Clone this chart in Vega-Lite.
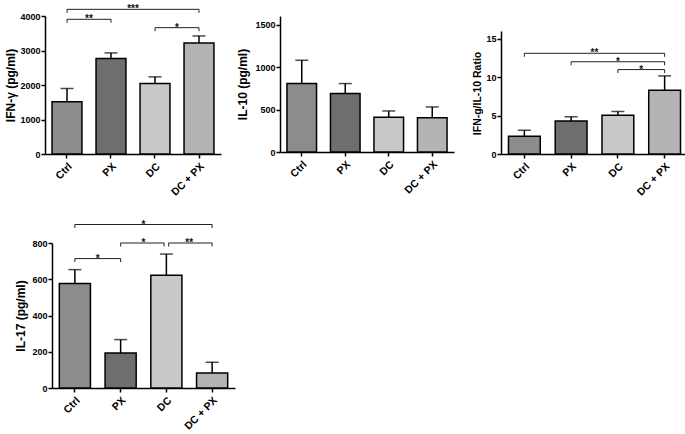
{
  "$schema": "https://vega.github.io/schema/vega-lite/v6.json",
  "background": "white",
  "padding": {"left": 4, "top": 4, "right": 0, "bottom": 0},
  "datasets": {
    "bars": [
      {"panel": "ifn", "group": "Ctrl", "mean": 1513, "upper": 1899},
      {"panel": "ifn", "group": "PX", "mean": 2766, "upper": 2930},
      {"panel": "ifn", "group": "DC", "mean": 2043, "upper": 2236},
      {"panel": "ifn", "group": "DC + PX", "mean": 3219, "upper": 3422},
      {"panel": "il10", "group": "Ctrl", "mean": 805, "upper": 1079},
      {"panel": "il10", "group": "PX", "mean": 688, "upper": 805},
      {"panel": "il10", "group": "DC", "mean": 410, "upper": 483},
      {"panel": "il10", "group": "DC + PX", "mean": 402, "upper": 530},
      {"panel": "ratio", "group": "Ctrl", "mean": 2.32, "upper": 3.09},
      {"panel": "ratio", "group": "PX", "mean": 4.3, "upper": 4.84},
      {"panel": "ratio", "group": "DC", "mean": 5.04, "upper": 5.53},
      {"panel": "ratio", "group": "DC + PX", "mean": 8.29, "upper": 10.16},
      {"panel": "il17", "group": "Ctrl", "mean": 576, "upper": 653},
      {"panel": "il17", "group": "PX", "mean": 193, "upper": 267},
      {"panel": "il17", "group": "DC", "mean": 622, "upper": 739},
      {"panel": "il17", "group": "DC + PX", "mean": 83, "upper": 142}
    ],
    "brackets": [
      {"panel": "ifn", "from": 0.5, "to": 1.5, "mid": 1.0, "y": 3904, "label": "**"},
      {"panel": "ifn", "from": 0.5, "to": 3.5, "mid": 2.0, "y": 4193, "label": "***"},
      {"panel": "ifn", "from": 2.5, "to": 3.5, "mid": 3.0, "y": 3662, "label": "*"},
      {"panel": "ratio", "from": 0.5, "to": 3.5, "mid": 2.0, "y": 13.1, "label": "**"},
      {"panel": "ratio", "from": 1.5, "to": 3.5, "mid": 2.5, "y": 12.0, "label": "*"},
      {"panel": "ratio", "from": 2.5, "to": 3.5, "mid": 3.0, "y": 10.98, "label": "*"},
      {"panel": "il17", "from": 0.5, "to": 1.5, "mid": 1.0, "y": 714, "label": "*"},
      {"panel": "il17", "from": 1.5, "to": 2.45, "mid": 2.0, "y": 800, "label": "*"},
      {"panel": "il17", "from": 2.55, "to": 3.5, "mid": 3.0, "y": 800, "label": "**"},
      {"panel": "il17", "from": 0.5, "to": 3.5, "mid": 2.0, "y": 902, "label": "*"}
    ]
  },
  "columns": 3,
  "spacing": {"row": 89, "column": 45},
  "bounds": "flush",
  "align": "each",
  "concat": [
    {
      "width": 190, "height": 138,
      "layer": [
        {
          "data": {"name": "bars"},
          "transform": [{"filter": "datum.panel == 'ifn'"}],
          "encoding": {"x": {"field": "group", "type": "nominal", "sort": ["Ctrl", "PX", "DC", "DC + PX"], "title": null, "scale": {"range": [0, 176], "paddingInner": 0.32, "paddingOuter": 0.16}}},
          "layer": [
            {"mark": {"type": "rule", "stroke": "black", "strokeWidth": 1.5}, "encoding": {"y": {"field": "mean", "type": "quantitative", "title": "IFN-γ (pg/ml)", "scale": {"domain": [0, 4000]}, "axis": {"values": [0, 1000, 2000, 3000, 4000], "format": "d", "titlePadding": 2}}, "y2": {"field": "upper"}}},
            {"mark": {"type": "bar", "stroke": "black", "strokeWidth": 1.5}, "encoding": {"y": {"field": "mean", "type": "quantitative", "title": "IFN-γ (pg/ml)", "axis": {"values": [0, 1000, 2000, 3000, 4000], "format": "d", "titlePadding": 2}}, "fill": {"field": "group", "type": "nominal", "scale": {"domain": ["Ctrl", "PX", "DC", "DC + PX"], "range": ["#8c8c8c", "#6e6e6e", "#c9c9c9", "#b4b4b4"]}, "legend": null}}},
            {"mark": {"type": "tick", "color": "black", "thickness": 1.5, "size": 13}, "encoding": {"y": {"field": "upper", "type": "quantitative", "title": "IFN-γ (pg/ml)", "axis": {"values": [0, 1000, 2000, 3000, 4000], "format": "d", "titlePadding": 2}}}}
          ]
        },
        {
          "data": {"name": "brackets"},
          "transform": [{"filter": "datum.panel == 'ifn'"}],
          "layer": [
            {"mark": {"type": "rule", "stroke": "#222222", "strokeWidth": 1}, "encoding": {"x": {"field": "from", "type": "quantitative", "scale": {"domain": [0, 4], "range": [0, 176], "nice": false, "zero": false}, "axis": null}, "x2": {"field": "to"}, "y": {"field": "y", "type": "quantitative", "title": "IFN-γ (pg/ml)", "axis": {"values": [0, 1000, 2000, 3000, 4000], "format": "d", "titlePadding": 2}}}},
            {"mark": {"type": "rule", "stroke": "#222222", "strokeWidth": 1, "y2Offset": 3.5}, "encoding": {"x": {"field": "from", "type": "quantitative"}, "y": {"field": "y", "type": "quantitative", "title": "IFN-γ (pg/ml)", "axis": {"values": [0, 1000, 2000, 3000, 4000], "format": "d", "titlePadding": 2}}, "y2": {"field": "y"}}},
            {"mark": {"type": "rule", "stroke": "#222222", "strokeWidth": 1, "y2Offset": 3.5}, "encoding": {"x": {"field": "to", "type": "quantitative"}, "y": {"field": "y", "type": "quantitative", "title": "IFN-γ (pg/ml)", "axis": {"values": [0, 1000, 2000, 3000, 4000], "format": "d", "titlePadding": 2}}, "y2": {"field": "y"}}},
            {"mark": {"type": "text", "baseline": "alphabetic", "dy": 3, "fontSize": 10, "fontWeight": "bold", "font": "Liberation Sans", "fill": "#111111"}, "encoding": {"x": {"field": "mid", "type": "quantitative"}, "y": {"field": "y", "type": "quantitative", "title": "IFN-γ (pg/ml)", "axis": {"values": [0, 1000, 2000, 3000, 4000], "format": "d", "titlePadding": 2}}, "text": {"field": "label"}}}
          ]
        }
      ],
      "resolve": {"scale": {"x": "independent"}}
    },
    {
      "width": 176, "height": 136,
      "layer": [
        {
          "data": {"name": "bars"},
          "transform": [{"filter": "datum.panel == 'il10'"}],
          "encoding": {"x": {"field": "group", "type": "nominal", "sort": ["Ctrl", "PX", "DC", "DC + PX"], "title": null, "scale": {"range": [0, 174], "paddingInner": 0.32, "paddingOuter": 0.16}}},
          "layer": [
            {"mark": {"type": "rule", "stroke": "black", "strokeWidth": 1.5}, "encoding": {"y": {"field": "mean", "type": "quantitative", "title": "IL-10 (pg/ml)", "scale": {"domain": [0, 1500]}, "axis": {"values": [0, 500, 1000, 1500], "format": "d", "titlePadding": 5}}, "y2": {"field": "upper"}}},
            {"mark": {"type": "bar", "stroke": "black", "strokeWidth": 1.5}, "encoding": {"y": {"field": "mean", "type": "quantitative", "title": "IL-10 (pg/ml)", "axis": {"values": [0, 500, 1000, 1500], "format": "d", "titlePadding": 5}}, "fill": {"field": "group", "type": "nominal", "scale": {"domain": ["Ctrl", "PX", "DC", "DC + PX"], "range": ["#8c8c8c", "#6e6e6e", "#c9c9c9", "#b4b4b4"]}, "legend": null}}},
            {"mark": {"type": "tick", "color": "black", "thickness": 1.5, "size": 13}, "encoding": {"y": {"field": "upper", "type": "quantitative", "title": "IL-10 (pg/ml)", "axis": {"values": [0, 500, 1000, 1500], "format": "d", "titlePadding": 5}}}}
          ]
        }
      ]
    },
    {
      "width": 187, "height": 138,
      "layer": [
        {
          "data": {"name": "bars"},
          "transform": [{"filter": "datum.panel == 'ratio'"}],
          "encoding": {"x": {"field": "group", "type": "nominal", "sort": ["Ctrl", "PX", "DC", "DC + PX"], "title": null, "scale": {"range": [0, 187], "paddingInner": 0.32, "paddingOuter": 0.16}}},
          "layer": [
            {"mark": {"type": "rule", "stroke": "black", "strokeWidth": 1.5}, "encoding": {"y": {"field": "mean", "type": "quantitative", "title": "IFN-g/IL-10 Ratio", "scale": {"domain": [0, 15], "range": [138, 15]}, "axis": {"values": [0, 5, 10, 15], "format": "d", "titlePadding": 3, "titleY": 77, "titleFontSize": 10.5}}, "y2": {"field": "upper"}}},
            {"mark": {"type": "bar", "stroke": "black", "strokeWidth": 1.5}, "encoding": {"y": {"field": "mean", "type": "quantitative", "title": "IFN-g/IL-10 Ratio", "axis": {"values": [0, 5, 10, 15], "format": "d", "titlePadding": 3, "titleY": 77, "titleFontSize": 10.5}}, "fill": {"field": "group", "type": "nominal", "scale": {"domain": ["Ctrl", "PX", "DC", "DC + PX"], "range": ["#8c8c8c", "#6e6e6e", "#c9c9c9", "#b4b4b4"]}, "legend": null}}},
            {"mark": {"type": "tick", "color": "black", "thickness": 1.5, "size": 13}, "encoding": {"y": {"field": "upper", "type": "quantitative", "title": "IFN-g/IL-10 Ratio", "axis": {"values": [0, 5, 10, 15], "format": "d", "titlePadding": 3, "titleY": 77, "titleFontSize": 10.5}}}}
          ]
        },
        {
          "data": {"name": "brackets"},
          "transform": [{"filter": "datum.panel == 'ratio'"}],
          "layer": [
            {"mark": {"type": "rule", "stroke": "#222222", "strokeWidth": 1}, "encoding": {"x": {"field": "from", "type": "quantitative", "scale": {"domain": [0, 4], "range": [0, 187], "nice": false, "zero": false}, "axis": null}, "x2": {"field": "to"}, "y": {"field": "y", "type": "quantitative", "title": "IFN-g/IL-10 Ratio", "axis": {"values": [0, 5, 10, 15], "format": "d", "titlePadding": 3, "titleY": 77, "titleFontSize": 10.5}}}},
            {"mark": {"type": "rule", "stroke": "#222222", "strokeWidth": 1, "y2Offset": 3.5}, "encoding": {"x": {"field": "from", "type": "quantitative"}, "y": {"field": "y", "type": "quantitative", "title": "IFN-g/IL-10 Ratio", "axis": {"values": [0, 5, 10, 15], "format": "d", "titlePadding": 3, "titleY": 77, "titleFontSize": 10.5}}, "y2": {"field": "y"}}},
            {"mark": {"type": "rule", "stroke": "#222222", "strokeWidth": 1, "y2Offset": 3.5}, "encoding": {"x": {"field": "to", "type": "quantitative"}, "y": {"field": "y", "type": "quantitative", "title": "IFN-g/IL-10 Ratio", "axis": {"values": [0, 5, 10, 15], "format": "d", "titlePadding": 3, "titleY": 77, "titleFontSize": 10.5}}, "y2": {"field": "y"}}},
            {"mark": {"type": "text", "baseline": "alphabetic", "dy": 3, "fontSize": 10, "fontWeight": "bold", "font": "Liberation Sans", "fill": "#111111"}, "encoding": {"x": {"field": "mid", "type": "quantitative"}, "y": {"field": "y", "type": "quantitative", "title": "IFN-g/IL-10 Ratio", "axis": {"values": [0, 5, 10, 15], "format": "d", "titlePadding": 3, "titleY": 77, "titleFontSize": 10.5}}, "text": {"field": "label"}}}
          ]
        }
      ],
      "resolve": {"scale": {"x": "independent"}}
    },
    {
      "width": 190, "height": 145,
      "layer": [
        {
          "data": {"name": "bars"},
          "transform": [{"filter": "datum.panel == 'il17'"}],
          "encoding": {"x": {"field": "group", "type": "nominal", "sort": ["Ctrl", "PX", "DC", "DC + PX"], "title": null, "scale": {"range": [7, 190], "paddingInner": 0.32, "paddingOuter": 0.16}}},
          "layer": [
            {"mark": {"type": "rule", "stroke": "black", "strokeWidth": 1.5}, "encoding": {"y": {"field": "mean", "type": "quantitative", "title": "IL-17 (pg/ml)", "scale": {"domain": [0, 800]}, "axis": {"values": [0, 200, 400, 600, 800], "format": "d", "titlePadding": 4, "offset": -7}}, "y2": {"field": "upper"}}},
            {"mark": {"type": "bar", "stroke": "black", "strokeWidth": 1.5}, "encoding": {"y": {"field": "mean", "type": "quantitative", "title": "IL-17 (pg/ml)", "axis": {"values": [0, 200, 400, 600, 800], "format": "d", "titlePadding": 4, "offset": -7}}, "fill": {"field": "group", "type": "nominal", "scale": {"domain": ["Ctrl", "PX", "DC", "DC + PX"], "range": ["#8c8c8c", "#6e6e6e", "#c9c9c9", "#b4b4b4"]}, "legend": null}}},
            {"mark": {"type": "tick", "color": "black", "thickness": 1.5, "size": 13}, "encoding": {"y": {"field": "upper", "type": "quantitative", "title": "IL-17 (pg/ml)", "axis": {"values": [0, 200, 400, 600, 800], "format": "d", "titlePadding": 4, "offset": -7}}}}
          ]
        },
        {
          "data": {"name": "brackets"},
          "transform": [{"filter": "datum.panel == 'il17'"}],
          "layer": [
            {"mark": {"type": "rule", "stroke": "#222222", "strokeWidth": 1}, "encoding": {"x": {"field": "from", "type": "quantitative", "scale": {"domain": [0, 4], "range": [7, 190], "nice": false, "zero": false}, "axis": null}, "x2": {"field": "to"}, "y": {"field": "y", "type": "quantitative", "title": "IL-17 (pg/ml)", "axis": {"values": [0, 200, 400, 600, 800], "format": "d", "titlePadding": 4, "offset": -7}}}},
            {"mark": {"type": "rule", "stroke": "#222222", "strokeWidth": 1, "y2Offset": 3.5}, "encoding": {"x": {"field": "from", "type": "quantitative"}, "y": {"field": "y", "type": "quantitative", "title": "IL-17 (pg/ml)", "axis": {"values": [0, 200, 400, 600, 800], "format": "d", "titlePadding": 4, "offset": -7}}, "y2": {"field": "y"}}},
            {"mark": {"type": "rule", "stroke": "#222222", "strokeWidth": 1, "y2Offset": 3.5}, "encoding": {"x": {"field": "to", "type": "quantitative"}, "y": {"field": "y", "type": "quantitative", "title": "IL-17 (pg/ml)", "axis": {"values": [0, 200, 400, 600, 800], "format": "d", "titlePadding": 4, "offset": -7}}, "y2": {"field": "y"}}},
            {"mark": {"type": "text", "baseline": "alphabetic", "dy": 3, "fontSize": 10, "fontWeight": "bold", "font": "Liberation Sans", "fill": "#111111"}, "encoding": {"x": {"field": "mid", "type": "quantitative"}, "y": {"field": "y", "type": "quantitative", "title": "IL-17 (pg/ml)", "axis": {"values": [0, 200, 400, 600, 800], "format": "d", "titlePadding": 4, "offset": -7}}, "text": {"field": "label"}}}
          ]
        }
      ],
      "resolve": {"scale": {"x": "independent"}}
    }
  ],
  "config": {
    "font": "Liberation Sans",
    "view": {"stroke": null},
    "axis": {
      "domainColor": "black", "domainWidth": 1.5,
      "tickColor": "black", "tickWidth": 1.5, "tickSize": 4,
      "labelColor": "black", "labelFont": "Liberation Sans", "labelFontWeight": "bold", "labelFontSize": 9, "labelPadding": 1,
      "titleColor": "black", "titleFont": "Liberation Sans", "titleFontWeight": "bold", "titleFontSize": 12,
      "grid": false
    },
    "axisX": {"labelAngle": -45, "labelFontSize": 10.5, "labelPadding": 3}
  }
}
